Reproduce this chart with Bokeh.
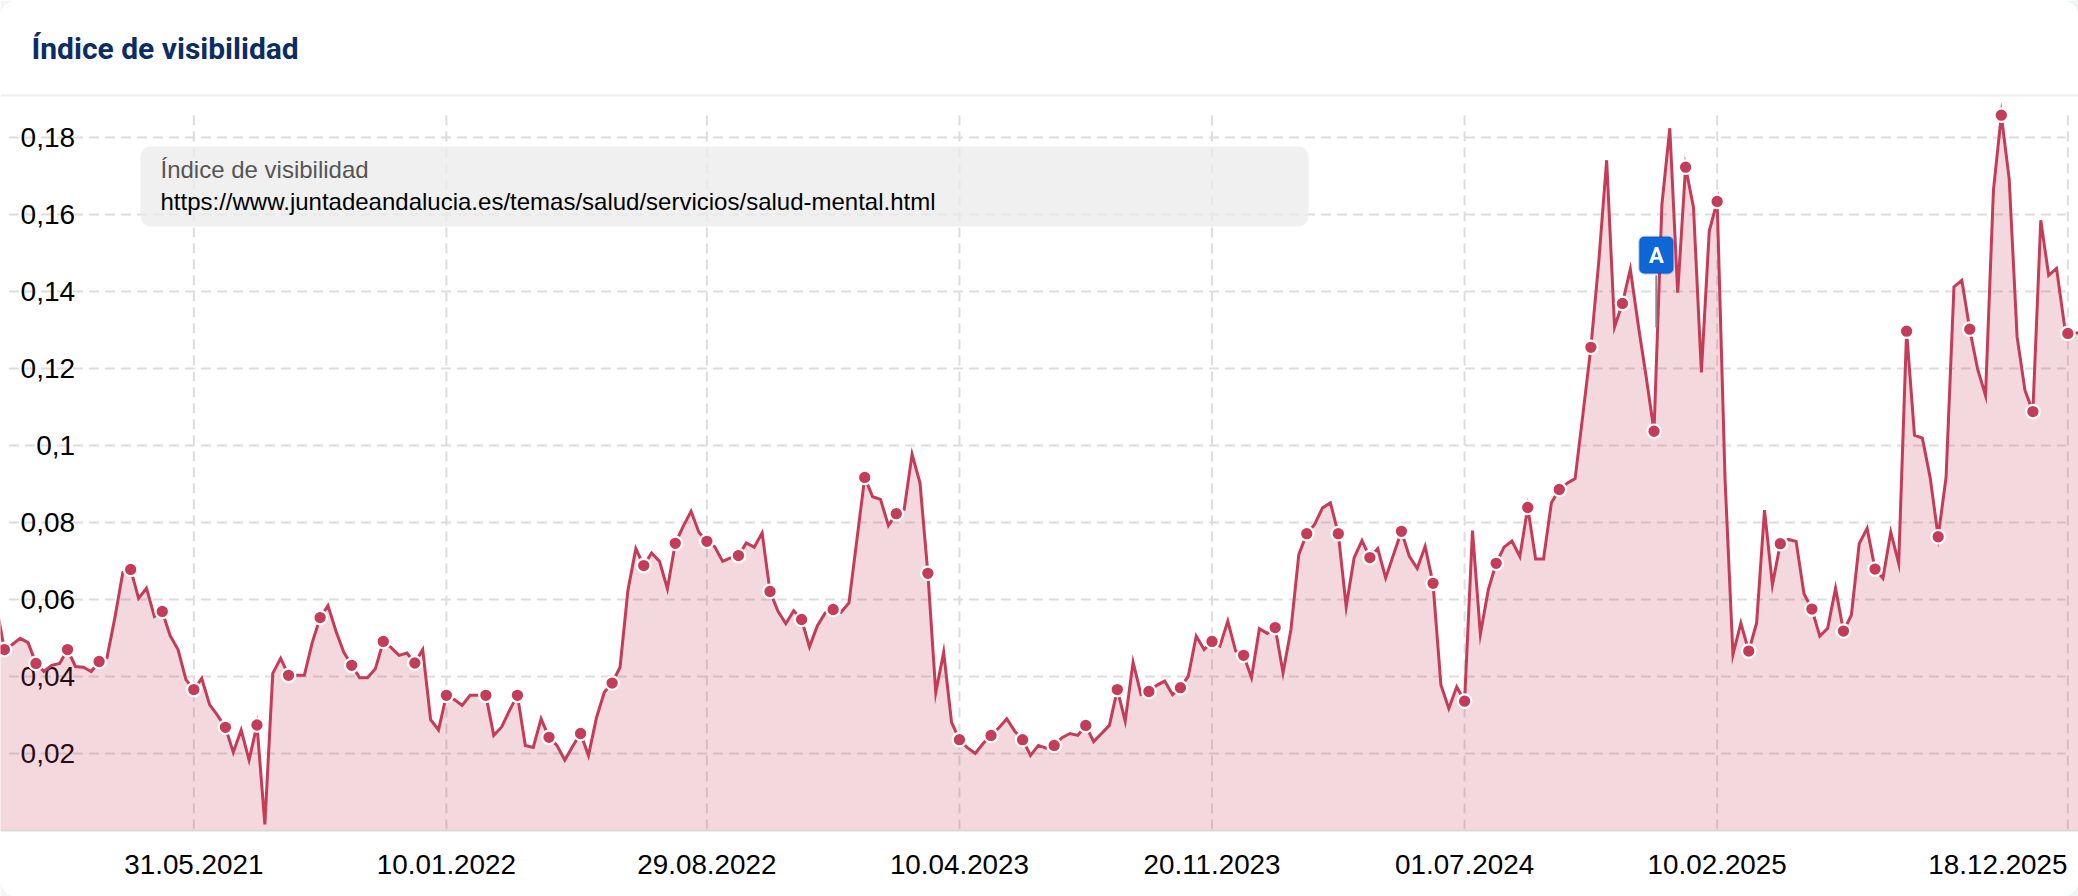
from datetime import datetime, timedelta
import numpy as np
from bokeh.plotting import figure
from bokeh.embed import file_html
from bokeh.resources import INLINE
from bokeh.models import Range1d, FixedTicker, BoxAnnotation, PolyAnnotation, Label, ColumnDataSource

title_text = "Índice de visibilidad"
legend_label_text = "Índice de visibilidad"
legend_url_text = "https://www.juntadeandalucia.es/temas/salud/servicios/salud-mental.html"

values = [
    .0582, .0470, .0483, .0499, .0488, .0434, .0413, .0429, .0434, .0470, .0426, .0424, .0413, .0439, .0449, .0553,
    .0670, .0678, .0603, .0629, .0556, .0569, .0506, .0470, .0392, .0366, .0395, .0327, .0299, .0268, .0203, .0261,
    .0183, .0274, .0016, .0408, .0447, .0403, .0403, .0403, .0488, .0553, .0584, .0518, .0463, .0429, .0397, .0397,
    .0420, .0491, .0475, .0455, .0461, .0435, .0470, .0288, .0261, .0351, .0340, .0325, .0351, .0351, .0351, .0247,
    .0269, .0312, .0351, .0221, .0216, .0290, .0242, .0221, .0183, .0219, .0252, .0195, .0292, .0359, .0383, .0424,
    .0624, .0732, .0688, .0721, .0699, .0628, .0746, .0790, .0829, .0774, .0751, .0737, .0699, .0708, .0714, .0747,
    .0736, .0773, .0621, .0570, .0537, .0571, .0548, .0477, .0532, .0565, .0574, .0567, .0591, .0754, .0917, .0867,
    .0860, .0792, .0823, .0834, .0977, .0903, .0668, .0358, .0463, .0281, .0236, .0215, .0200, .0226, .0247, .0267,
    .0290, .0258, .0236, .0195, .0221, .0214, .0221, .0241, .0252, .0247, .0273, .0231, .0252, .0273, .0366, .0284,
    .0437, .0353, .0361, .0377, .0388, .0353, .0371, .0401, .0505, .0470, .0491, .0479, .0544, .0466, .0455, .0397,
    .0524, .0512, .0527, .0410, .0522, .0717, .0771, .0795, .0838, .0851, .0771, .0581, .0708, .0753, .0709, .0732,
    .0656, .0717, .0777, .0712, .0681, .0738, .0642, .0378, .0317, .0373, .0336, .0779, .0510, .0625, .0694, .0736,
    .0752, .0712, .0839, .0705, .0705, .0851, .0886, .0902, .0914, .1082, .1255, .1477, .1741, .1308, .1369, .1458,
    .1313, .1179, .1037, .1626, .1824, .1397, .1723, .1619, .1190, .1557, .1634, .0912, .0457, .0539, .0466, .0539,
    .0832, .0638, .0745, .0756, .0751, .0615, .0575, .0505, .0525, .0629, .0518, .0559, .0745, .0785, .0679, .0655,
    .0775, .0694, .1297, .1027, .1019, .0915, .0763, .0917, .1412, .1429, .1302, .1198, .1130, .1662, .1858, .1692,
    .1282, .1143, .1088, .1585, .1442, .1460, .1312, .1291, .1292, .1292,
]
# weekly samples, then the last irregular crawl dates
week_start = datetime(2020, 12, 7)
weeks = [week_start + timedelta(days=7 * k) for k in range(263)]
dates = weeks + [datetime(2025, 12, 18), datetime(2025, 12, 25), datetime(2026, 1, 1)]
marker_positions = list(range(1, 58, 4)) + list(range(62, 259, 4)) + [263]

tick_dates = [datetime(2021, 5, 31), datetime(2022, 1, 10), datetime(2022, 8, 29), datetime(2023, 4, 10),
              datetime(2023, 11, 20), datetime(2024, 7, 1), datetime(2025, 2, 10), datetime(2025, 12, 18)]
tick_labels = ["31.05.2021", "10.01.2022", "29.08.2022", "10.04.2023", "20.11.2023", "01.07.2024", "10.02.2025", "18.12.2025"]
last_label_anchor = datetime(2025, 10, 17)  # the last label stays inside the card
y_ticks = [0.02, 0.04, 0.06, 0.08, 0.1, 0.12, 0.14, 0.16, 0.18]
y_labels = ["0,02", "0,04", "0,06", "0,08", "0,1", "0,12", "0,14", "0,16", "0,18"]
event_date = datetime(2024, 12, 18)

RED = "#c43c58"
W, H = 2078, 896


def ms(d):
    return (d - datetime(1970, 1, 1)).total_seconds() * 1000


def canvas_box(left, right, top, bottom, **kw):
    return BoxAnnotation(left=left, right=right, top=top, bottom=bottom, left_units="canvas", right_units="canvas",
                         top_units="canvas", bottom_units="canvas", **kw)


def canvas_label(x, y, text, **kw):
    return Label(x=x, y=y, x_units="canvas", y_units="canvas", text=text, text_baseline="alphabetic", **kw)


p = figure(width=W, height=H, output_backend="svg", toolbar_location=None,
           x_axis_type="datetime",
           x_range=Range1d(datetime(2020, 12, 10, 13), datetime(2025, 12, 27, 11)),
           y_range=Range1d(-0.017143, 0.21558),
           min_border_left=0, min_border_right=0, min_border_top=0, min_border_bottom=0,
           outline_line_color=None, background_fill_color="white", border_fill_color="white")
p.xgrid.visible = False
p.ygrid.visible = False

# header rule
p.add_layout(canvas_box(0, W, 94, 96, fill_color="#eeeeee", fill_alpha=1, line_color=None))

# grid
GRID = "#dddddd"
p.segment(x0=[datetime(2020, 12, 18)] * len(y_ticks), x1=[datetime(2025, 12, 16)] * len(y_ticks), y0=y_ticks, y1=y_ticks,
          line_color=GRID, line_width=2, line_dash="10 6", level="underlay")
p.segment(x0=tick_dates, x1=tick_dates, y0=[0.1857] * 8, y1=[0.0] * 8,
          line_color=GRID, line_width=2, line_dash="10 6", level="underlay")

# axes
xa = p.xaxis[0]
ticks = [ms(d) for d in tick_dates[:-1]] + [ms(last_label_anchor)]
xa.ticker = FixedTicker(ticks=ticks)
xa.major_label_overrides = {int(t): l for t, l in zip(ticks, tick_labels)}
xa.major_label_text_font = "Liberation Sans"
xa.major_label_text_font_size = "27.8px"
xa.major_label_text_color = "#000000"
xa.major_label_standoff = 19
xa.major_tick_line_color = None
xa.minor_tick_line_color = None
xa.axis_line_color = "#dadada"
xa.axis_line_width = 2
xa.fixed_location = 0

ya = p.yaxis[0]
ya.ticker = FixedTicker(ticks=y_ticks)
ya.major_label_overrides = {t: l for t, l in zip(y_ticks, y_labels)}
ya.major_label_text_font = "Liberation Sans"
ya.major_label_text_font_size = "28px"
ya.major_label_text_color = "#000000"
ya.major_tick_line_color = None
ya.minor_tick_line_color = None
ya.axis_line_color = None
ya.major_label_standoff = 0
ya.fixed_location = ms(datetime(2021, 2, 20))
ya.level = "underlay"

# series
src = ColumnDataSource(dict(x=dates, y=values, base=[0.0] * len(values)))
p.varea(x="x", y1="base", y2="y", source=src, fill_color=RED, fill_alpha=0.2)
p.line(x="x", y="y", source=src, line_color=RED, line_width=3, line_join="miter")
p.scatter(x=[dates[i] for i in marker_positions], y=[values[i] for i in marker_positions], size=13.5,
          fill_color=RED, line_color="white", line_width=2.2)

# legend box
p.add_layout(canvas_box(140, 1308, 146, 226, fill_color="#ebebeb", fill_alpha=0.75, line_color=None, border_radius=10))
p.add_layout(canvas_label(160, 169, legend_label_text, text_font="Liberation Sans", text_font_size="24px",
                          text_color="#555555"))
p.add_layout(canvas_label(160, 201, legend_url_text, text_font="Liberation Sans", text_font_size="24px",
                          text_color="#000000"))
p.add_layout(canvas_label(31, 48, title_text, text_font="Roboto", text_font_style="bold", text_font_size="30px",
                          text_color="#0b2d62"))

# event flag
p.segment(x0=[event_date], x1=[event_date], y0=[0.1442], y1=[0.1307], line_color="#8a8a8a", line_width=2)
p.add_layout(BoxAnnotation(left=datetime(2024, 12, 3), right=datetime(2025, 1, 2), top=0.1542, bottom=0.1447,
                           fill_color="#0f66d6", fill_alpha=1, line_color="#0a4ba8", line_width=2, border_radius=5))
p.add_layout(Label(x=ms(event_date), y=0.1494, text="A", text_align="center", text_baseline="middle",
                   text_font="Roboto", text_font_style="bold", text_font_size="22px", text_color="white"))

# card corners
R = 16
t = np.linspace(0, np.pi / 2, 10)
arc_x, arc_y = R - R * np.cos(t), R - R * np.sin(t)
for sx, sy, cx, cy in [(1, 1, 0, 0), (-1, 1, W, 0), (1, -1, 0, H), (-1, -1, W, H)]:
    xs = [cx] + list(cx + sx * arc_x)
    ys = [cy] + list(cy + sy * arc_y)
    p.add_layout(PolyAnnotation(xs=xs, ys=ys, xs_units="canvas", ys_units="canvas", fill_color="#f3f4f6", fill_alpha=1,
                                line_color=None))

open("out.html", "w").write(file_html(p, INLINE))
